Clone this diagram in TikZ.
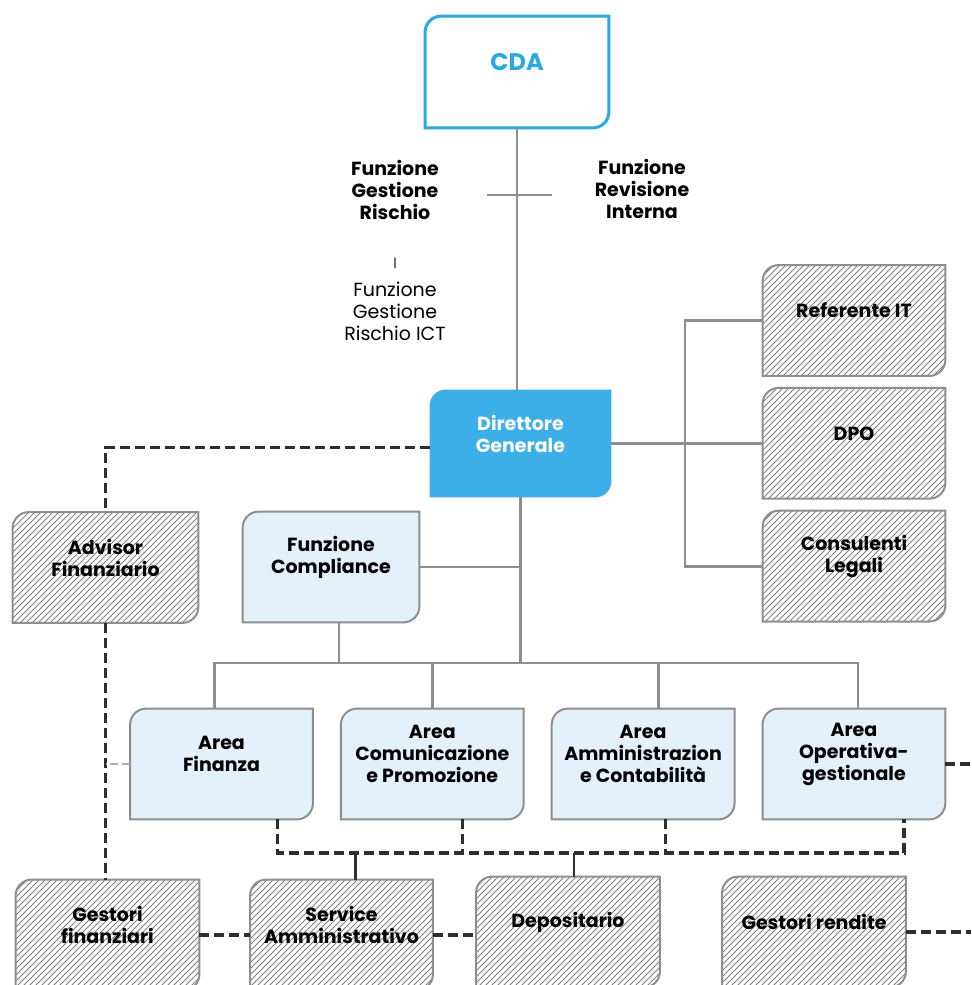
\documentclass[tikz,border=0pt]{standalone}
\usepackage{fontspec}
\setmainfont{Poppins}
\usepackage{xcolor}
\usetikzlibrary{positioning,patterns,backgrounds}

\definecolor{cdablue}{HTML}{29A9E1}
\definecolor{dgblue}{HTML}{3DAFE8}
\definecolor{arealight}{HTML}{E3F2FA}
\definecolor{linegray}{HTML}{8E8E8E}
\definecolor{dashgray}{HTML}{2E2E2E}

\tikzset{
 box/.style={minimum width=91pt,minimum height=55pt,inner sep=0pt},
 txt/.style={align=center,font=\bfseries\fontsize{9.5}{11}\selectfont},
 boxtxt/.style={txt,yshift=5pt},
 conn/.style={draw=linegray,line width=1.4pt},
 dconn/.style={draw=dashgray,line width=1.6pt,dash pattern=on 5pt off 2.5pt},
 stub/.style={draw=linegray!70,line width=1pt,dash pattern=on 4pt off 2pt},
 cdaframe/.style={draw=cdablue,line width=1.5pt,fill=white},
 dgframe/.style={fill=dgblue},
 areaframe/.style={draw=linegray,line width=1pt,fill=arealight},
 hatchframe/.style={draw=linegray,line width=1pt,pattern=north east lines,pattern color=black!50},
}

\begin{document}
\begin{tikzpicture}[x=0.5pt,y=-0.5pt,node distance=6pt]
 \useasboundingbox (0,0) rectangle (971,985);

 % top
 \node[box,minimum width=91.5pt,minimum height=55.5pt,
  label={[boxtxt,text=cdablue,font=\bfseries\fontsize{12}{14}\selectfont]center:CDA}] (cda) at (517,72) {};
 \node[box,minimum width=90.5pt,minimum height=53.5pt,
  label={[boxtxt,text=white]center:Direttore\\Generale}] (dg) at (520.5,443.5) {};
 \node[txt] (fgr) at (395,190) {Funzione\\Gestione\\Rischio};
 \node[txt] (fri) at (642,189) {Funzione\\Revisione\\Interna};
 \node[txt,font=\fontsize{6}{7}\selectfont] (sep) at (395,263) {|};
 \node[txt,font=\fontsize{9.5}{11}\selectfont] (fict) at (395,311) {Funzione\\Gestione\\Rischio ICT};
 \coordinate (tl) at (487,195);
 \coordinate (tr) at (552,195);

 % staff on the right
 \node[box,label={[boxtxt]center:Referente IT}] (ref) at (854,320.5) {};
 \node[box,below=of ref,label={[boxtxt]center:DPO}] (dpo) {};
 \node[box,below=of dpo,label={[boxtxt]center:Consulenti\\Legali}] (cons) {};

 % middle
 \node[box,minimum width=92.5pt,label={[boxtxt]center:Advisor\\Finanziario}] (adv) at (105.5,567.5) {};
 \node[box,minimum width=88pt,label={[boxtxt]center:Funzione\\Compliance}] (comp) at (331,567) {};

 % areas
 \node[box,label={[boxtxt]center:Area\\Finanza}] (af) at (221.5,764) {};
 \node[box,right=14pt of af,label={[boxtxt]center:Area\\Comunicazione\\e Promozione}] (ac) {};
 \node[box,right=14pt of ac,label={[boxtxt]center:Area\\Amministrazion\\e Contabilità}] (aa) {};
 \node[box,right=14pt of aa,label={[boxtxt]center:Area\\Operativa-\\gestionale}] (ao) {};

 % outsourcers
 \node[box,minimum width=91.5pt,label={[boxtxt]center:Gestori\\finanziari}] (gf) at (107.5,935) {};
 \node[box,label={[boxtxt]center:Service\\Amministrativo}] (sa) at (341.5,935) {};
 \node[box,minimum width=91.5pt,label={[boxtxt]center:Depositario}] (dep) at (568,932) {};
 \node[box,minimum width=91.5pt,label={[boxtxt]center:Gestori rendite}] (gr) at (814,932) {};

 \begin{scope}[on background layer]
  \foreach \n/\f in {cda/cdaframe,dg/dgframe,comp/areaframe,af/areaframe,ac/areaframe,
    aa/areaframe,ao/areaframe,ref/hatchframe,dpo/hatchframe,cons/hatchframe,adv/hatchframe,
    gf/hatchframe,sa/hatchframe,dep/hatchframe,gr/hatchframe}
   \path[\f] (\n.south west) -- ([yshift=-8pt]\n.north west)
    .. controls ([yshift=-3.6pt]\n.north west) and ([xshift=3.6pt]\n.north west) .. ([xshift=8pt]\n.north west)
    -- (\n.north east) -- ([yshift=8pt]\n.south east)
    .. controls ([yshift=3.6pt]\n.south east) and ([xshift=-3.6pt]\n.south east) .. ([xshift=-8pt]\n.south east)
    -- cycle;
 \end{scope}

 \coordinate (rb) at (685,0);
 \coordinate (re) at (971,0);
 \coordinate (bus) at (0,663);
 \coordinate (dbus) at (0,853);

 % solid lines
 \draw[conn] (cda.south) -- (cda.south |- dg.north);
 \draw[conn] (tl) -- (tr);
 \draw[conn] (dg.east) -- (dg.east -| dpo.west);
 \draw[conn] (ref.west) -- (ref.west -| rb) -- (cons.west -| rb) -- (cons.west);
 \draw[conn] (dg.south) -- (dg.south |- bus);
 \draw[conn] (comp.east) -- (comp.east -| dg.south);
 \draw[conn] ([xshift=4pt]comp.south) -- ([xshift=4pt]comp.south |- bus);
 \draw[conn] ([xshift=-3.5pt]af.north) -- ([xshift=-3.5pt]af.north |- bus)
  -- ([xshift=2pt]ao.north |- bus) -- ([xshift=2pt]ao.north);
 \draw[conn] (ac.north) -- (ac.north |- bus);
 \draw[conn] ([xshift=7.5pt]aa.north) -- ([xshift=7.5pt]aa.north |- bus);

 % dashed lines
 \draw[dconn] ([yshift=-2pt]dg.west) -| (adv.north);
 \draw[dconn] (adv.south) -- (adv.south |- gf.north);
 \draw[stub] (af.west) -- (af.west -| adv.south);
 \draw[dconn] (ao.east) -- (ao.east -| re);
 \coordinate (d1) at ([xshift=28pt]af.south);
 \coordinate (d2) at ([xshift=15pt]ac.south);
 \coordinate (d3) at ([xshift=11pt]aa.south);
 \coordinate (d4) at ([xshift=25pt]ao.south);
 \draw[dconn] (d1) -- (d1 |- dbus) -- (d4 |- dbus) -- (d4);
 \draw[dconn] (d2) -- (d2 |- dbus);
 \draw[dconn] (d3) -- (d3 |- dbus);
 \draw[conn,draw=dashgray] ([xshift=7pt]sa.north) -- ([xshift=7pt]sa.north |- dbus);
 \draw[conn,draw=dashgray] ([xshift=3pt]dep.north) -- ([xshift=3pt]dep.north |- dbus);
 \draw[dconn] (gf.east) -- (gf.east -| sa.west);
 \draw[dconn] (sa.east) -- (sa.east -| dep.west);
 \draw[dconn] (gr.east) -- (gr.east -| re);
\end{tikzpicture}
\end{document}
